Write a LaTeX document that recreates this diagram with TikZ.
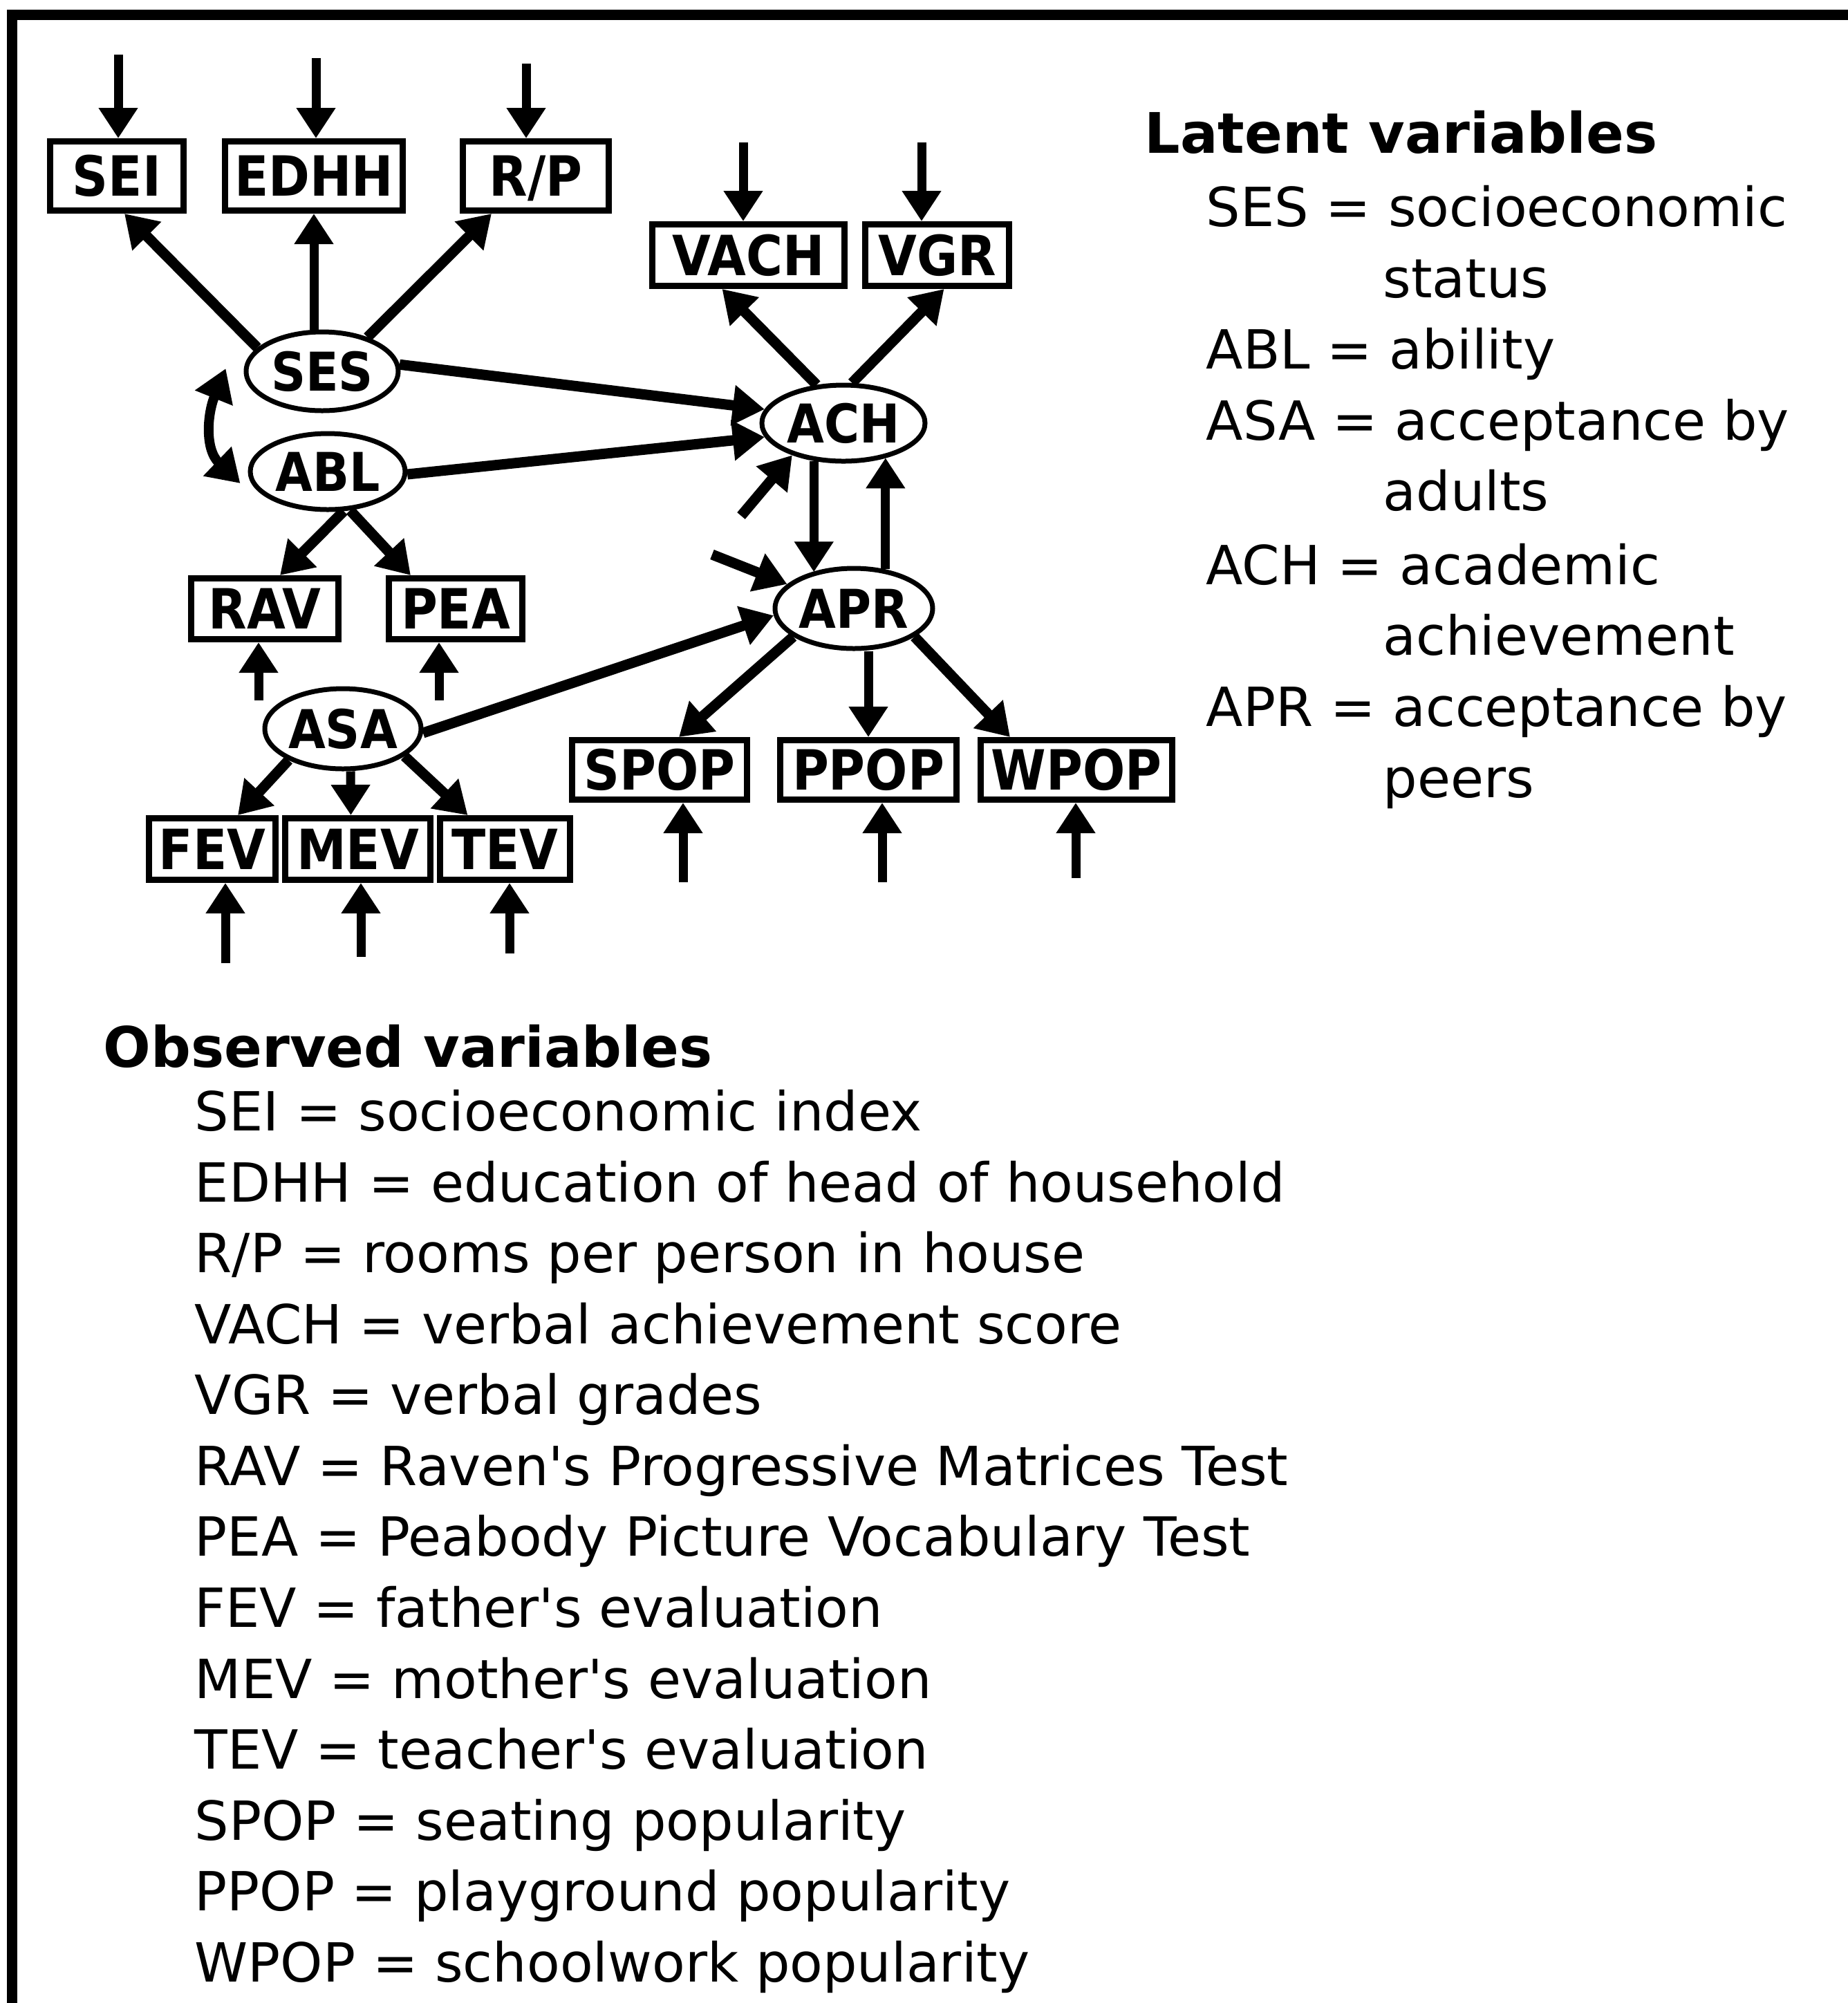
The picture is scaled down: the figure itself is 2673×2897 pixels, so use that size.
\documentclass[tikz,border=0pt]{standalone}
\usepackage{fontspec}
\setmainfont{DejaVu Sans}
\usepackage{graphicx}
\usetikzlibrary{arrows.meta,shapes.geometric,calc}
\newcommand\txtsize{\fontsize{22.2pt}{26pt}\selectfont}
\newcommand\hdsize{\fontsize{23pt}{26pt}\selectfont}
\newcommand\blab[1]{\scalebox{0.9}[1]{#1}}
\begin{document}
\begin{tikzpicture}[x=0.1mm,y=-0.1mm,
  obs/.style={draw, line width=0.9mm, rectangle, inner sep=0pt, text height=5.8mm, text depth=0pt,
    font=\fontsize{22.8pt}{26pt}\selectfont\bfseries},
  lat/.style={draw, line width=0.7mm, ellipse, inner sep=0pt, text height=5.6mm, text depth=0pt,
    font=\fontsize{22pt}{26pt}\selectfont\bfseries},
  arr/.style={line width=1.5mm, -{Triangle[width=5.6mm,length=4.6mm]}},
  darr/.style={line width=1.4mm, {Triangle[width=5.6mm,length=4.6mm]}-{Triangle[width=5.6mm,length=4.6mm]}},
  inarr/.style={line width=1.3mm, -{Triangle[width=5.4mm,length=4.4mm]}},
  txt/.style={anchor=base west, inner sep=0pt, font=\txtsize},
  head/.style={anchor=base west, inner sep=0pt, font=\hdsize\bfseries}]
\useasboundingbox (0,0) rectangle (2673,2897);
% frame
\draw[line width=1.5mm, line join=miter] (17,2897) -- (17,21) -- (2673,21);

% observed boxes
\node[obs, minimum width=19.3mm, minimum height=10mm] (SEI) at (169,254.5) {\blab{SEI}};
\node[obs, minimum width=25.7mm, minimum height=10mm] (EDHH) at (454,254.5) {\blab{EDHH}};
\node[obs, minimum width=21.1mm, minimum height=10mm] (RP) at (775,254.5) {\blab{R/P}};
\node[obs, minimum width=27.8mm, minimum height=8.9mm] (VACH) at (1082.5,369) {\blab{VACH}};
\node[obs, minimum width=20.8mm, minimum height=8.9mm] (VGR) at (1355.5,369) {\blab{VGR}};
\node[obs, minimum width=21.3mm, minimum height=8.8mm] (RAV) at (383,880.5) {\blab{RAV}};
\node[obs, minimum width=19.3mm, minimum height=8.8mm] (PEA) at (659,880.5) {\blab{PEA}};
\node[obs, minimum width=18.3mm, minimum height=8.9mm] (FEV) at (307,1228) {\blab{FEV}};
\node[obs, minimum width=21.0mm, minimum height=8.9mm] (MEV) at (517.5,1228) {\blab{MEV}};
\node[obs, minimum width=18.8mm, minimum height=8.9mm] (TEV) at (730.5,1228) {\blab{TEV}};
\node[obs, minimum width=25.3mm, minimum height=8.6mm] (SPOP) at (954,1113.5) {\blab{SPOP}};
\node[obs, minimum width=25.5mm, minimum height=8.6mm] (PPOP) at (1256,1113.5) {\blab{PPOP}};
\node[obs, minimum width=27.7mm, minimum height=8.6mm] (WPOP) at (1557,1113.5) {\blab{WPOP}};

% latent ellipses
\node[lat, minimum width=22.0mm, minimum height=11.4mm] (SES) at (466,537) {\blab{SES}};
\node[lat, minimum width=22.4mm, minimum height=11.0mm] (ABL) at (474,682) {\blab{ABL}};
\node[lat, minimum width=23.6mm, minimum height=11.0mm] (ACH) at (1220,612) {\blab{ACH}};
\node[lat, minimum width=22.8mm, minimum height=11.6mm] (APR) at (1235,880) {\blab{APR}};
\node[lat, minimum width=22.6mm, minimum height=11.6mm] (ASA) at (496,1054) {\blab{ASA}};

% error inputs
\coordinate (eSEI) at (171,79);
\coordinate (eEDHH) at (457,84);
\coordinate (eRP) at (761,92);
\coordinate (eVACH) at (1075,206);
\coordinate (eVGR) at (1333,206);
\coordinate (eRAV) at (374,1013);
\coordinate (ePEA) at (635,1013);
\coordinate (eFEV) at (326,1393);
\coordinate (eMEV) at (522,1384);
\coordinate (eTEV) at (737,1379);
\coordinate (eSPOP) at (988,1276);
\coordinate (ePPOP) at (1276,1276);
\coordinate (eWPOP) at (1556,1270);
\coordinate (dACH) at (1072,746);
\coordinate (dAPR) at (1030,802);

\draw[inarr] (eSEI) -- (eSEI |- SEI.north);
\draw[inarr] (eEDHH) -- (eEDHH |- EDHH.north);
\draw[inarr] (eRP) -- (eRP |- RP.north);
\draw[inarr] (eVACH) -- (eVACH |- VACH.north);
\draw[inarr] (eVGR) -- (eVGR |- VGR.north);
\draw[inarr] (eRAV) -- (eRAV |- RAV.south);
\draw[inarr] (ePEA) -- (ePEA |- PEA.south);
\draw[inarr] (eFEV) -- (eFEV |- FEV.south);
\draw[inarr] (eMEV) -- (eMEV |- MEV.south);
\draw[inarr] (eTEV) -- (eTEV |- TEV.south);
\draw[inarr] (eSPOP) -- (eSPOP |- SPOP.south);
\draw[inarr] (ePPOP) -- (ePPOP |- PPOP.south);
\draw[inarr] (eWPOP) -- (eWPOP |- WPOP.south);

% structural arrows
\draw[arr] (SES.160) -- ($(SEI.south)+(11,0)$);
\draw[inarr] (SES.north -| EDHH.south) -- (EDHH.south);
\draw[arr] (SES.37) -- ($(RP.south)+(-64,0)$);
\draw[arr] (SES.5) -- (ACH.170);
\draw[arr] (ABL.358) -- (ACH.190);
\draw[darr] ([shift={(-26,-4)}]SES.west) .. controls +(-27,67) and +(-51,-49) .. ([shift={(-11,17)}]ABL.west);
\draw[arr] (ABL.292) -- ($(RAV.north)+(22,0)$);
\draw[arr] (ABL.300) -- ($(PEA.north)+(-65,0)$);
\draw[arr] (ACH.125) -- ($(VACH.south)+(-38,0)$);
\draw[arr] (ACH.78) -- ($(VGR.south)+(10,0)$);
\draw[inarr] (ACH.232) -- (APR.139 -| ACH.232);
\draw[inarr] (APR.51) -- (ACH.321 -| APR.51);
\draw[arr] (dACH) -- (ACH.212);
\draw[arr] (dAPR) -- (APR.160);
\draw[arr] (ASA.-3) -- (APR.185);
\draw[arr] (APR.205) -- ($(SPOP.north)+(28,0)$);
\draw[inarr] (APR.south -| PPOP.north) -- (PPOP.north);
\draw[arr] (APR.-25) -- ($(WPOP.north)+(-96,0)$);
\draw[arr] (ASA.210) -- ($(FEV.north)+(37,0)$);
\draw[inarr] ($(ASA.south)+(11,0)$) -- ($(MEV.north)+(-10,0)$);
\draw[arr] (ASA.-24) -- ($(TEV.north)+(-54,0)$);

% latent legend
\node[head] (lh) at (1655,221) {Latent variables};
\node[txt] (l1) at (1744,327) {SES = socioeconomic};
\node[txt] (l1b) at (2000,430) {status};
\node[txt] (l2) at (1744,533) {ABL = ability};
\node[txt] (l3) at (1744,636) {ASA = acceptance by};
\node[txt] (l3b) at (2000,738) {adults};
\node[txt] (l4) at (1744,845) {ACH = academic};
\node[txt] (l4b) at (2000,947) {achievement};
\node[txt] (l5) at (1744,1050) {APR = acceptance by};
\node[txt] (l5b) at (2000,1153) {peers};

% observed legend
\node[head] (oh) at (149,1543) {Observed variables};
\node[txt] (o1) at (281,1635) {SEI = socioeconomic index};
\node[txt] (o2) at (281,1738) {EDHH = education of head of household};
\node[txt] (o3) at (281,1840) {R/P = rooms per person in house};
\node[txt] (o4) at (281,1943) {VACH = verbal achievement score};
\node[txt] (o5) at (281,2045) {VGR = verbal grades};
\node[txt] (o6) at (281,2148) {RAV = Raven\textquotesingle s Progressive Matrices Test};
\node[txt] (o7) at (281,2250) {PEA = Peabody Picture Vocabulary Test};
\node[txt] (o8) at (281,2353) {FEV = father\textquotesingle s evaluation};
\node[txt] (o9) at (281,2456) {MEV = mother\textquotesingle s evaluation};
\node[txt] (o10) at (281,2558) {TEV = teacher\textquotesingle s evaluation};
\node[txt] (o11) at (281,2661) {SPOP = seating popularity};
\node[txt] (o12) at (281,2763) {PPOP = playground popularity};
\node[txt] (o13) at (281,2866) {WPOP = schoolwork popularity};
\end{tikzpicture}
\end{document}
